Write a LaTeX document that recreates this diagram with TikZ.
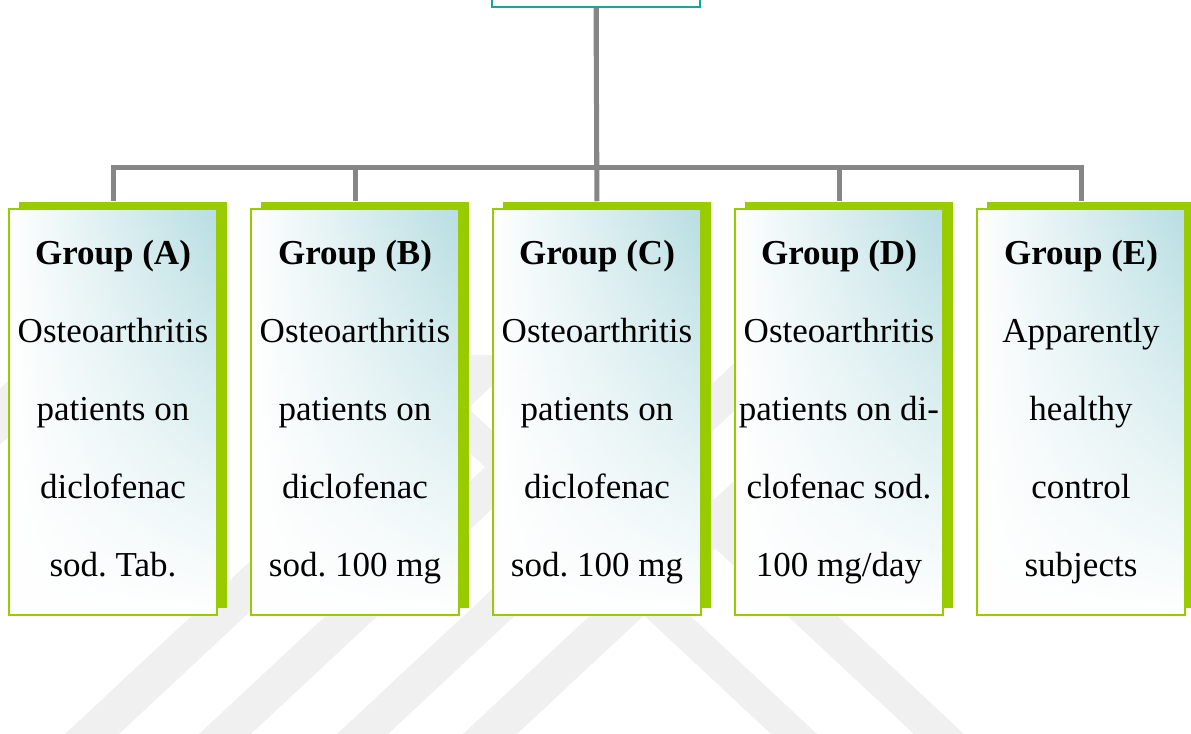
\documentclass[tikz,border=0pt]{standalone}
\usepackage{fontspec}
\setmainfont{Liberation Serif}
\usetikzlibrary{fadings,shadows}

\definecolor{leafgreen}{RGB}{153,204,0}
\definecolor{boxteal}{RGB}{184,222,226}
\definecolor{rootteal}{RGB}{24,164,164}
\definecolor{linkgray}{RGB}{134,134,134}
\definecolor{markgray}{RGB}{240,240,240}

\frenchspacing
\begin{document}
\begin{tikzpicture}[x=0.5pt, y=-0.5pt,
  groupbox/.style={draw=leafgreen, line width=0.75pt,
    left color=white, right color=boxteal,
    path picture={\fill[white, path fading=north]
      (path picture bounding box.south west) rectangle (path picture bounding box.north east);},
    general shadow={fill=leafgreen, shadow xshift=5pt, shadow yshift=3.5pt},
    minimum width=104pt, minimum height=203pt, inner sep=0pt,
    align=center, font=\fontsize{17.5}{39}\selectfont},
  rootbox/.style={draw=rootteal, fill=white, line width=1pt,
    minimum width=104pt, minimum height=40pt},
  link/.style={draw=linkgray, line width=2.5pt}]
  \useasboundingbox (0,0) rectangle (1191,734);
  \clip (0,0) rectangle (1191,734);

  % Watermark
  \fill[markgray] (-370,734) -- (-310,734) -- (96,355) -- (36,355) -- cycle;
  \fill[markgray] (65,734) -- (119,734) -- (525,355) -- (471,355) -- cycle;
  \fill[markgray] (199,734) -- (251,734) -- (657,355) -- (605,355) -- cycle;
  \fill[markgray] (337,734) -- (388,734) -- (794,355) -- (743,355) -- cycle;
  \fill[markgray] (463,734) -- (517,734) -- (923,355) -- (869,355) -- cycle;
  \fill[markgray] (771,734) -- (817,734) -- (411,355) -- (365,355) -- cycle;
  \fill[markgray] (914,734) -- (964,734) -- (558,355) -- (508,355) -- cycle;

  % Top box
  \node[rootbox] (root) at (596,-33) {};
  \coordinate (bus) at (596,167);

  % Group boxes
  \node[groupbox] (grpA) at (113,412) {\textbf{Group (A)}\\Osteoarthritis\\patients on\\diclofenac\\sod. Tab.\vphantom{g}};
  \node[groupbox] (grpB) at (355,412) {\textbf{Group (B)}\\Osteoarthritis\\patients on\\diclofenac\\sod. 100 mg};
  \node[groupbox] (grpC) at (597,412) {\textbf{Group (C)}\\Osteoarthritis\\patients on\\diclofenac\\sod. 100 mg};
  \node[groupbox] (grpD) at (839,412) {\textbf{Group (D)}\\Osteoarthritis\\patients on di-\\clofenac sod.\\100 mg/day};
  \node[groupbox] (grpE) at (1081,412) {\textbf{Group (E)}\\Apparently\\healthy\\control\\subjects};

  % Connectors
  \draw[link] (root.south) -- (bus) -| ([yshift=3.5pt]grpA.north);
  \draw[link] (root.south) -- (bus) -| ([yshift=3.5pt]grpB.north);
  \draw[link] (root.south) -- ([yshift=3.5pt]grpC.north);
  \draw[link] (root.south) -- (bus) -| ([yshift=3.5pt]grpD.north);
  \draw[link] (root.south) -- (bus) -| ([yshift=3.5pt]grpE.north);
\end{tikzpicture}
\end{document}
